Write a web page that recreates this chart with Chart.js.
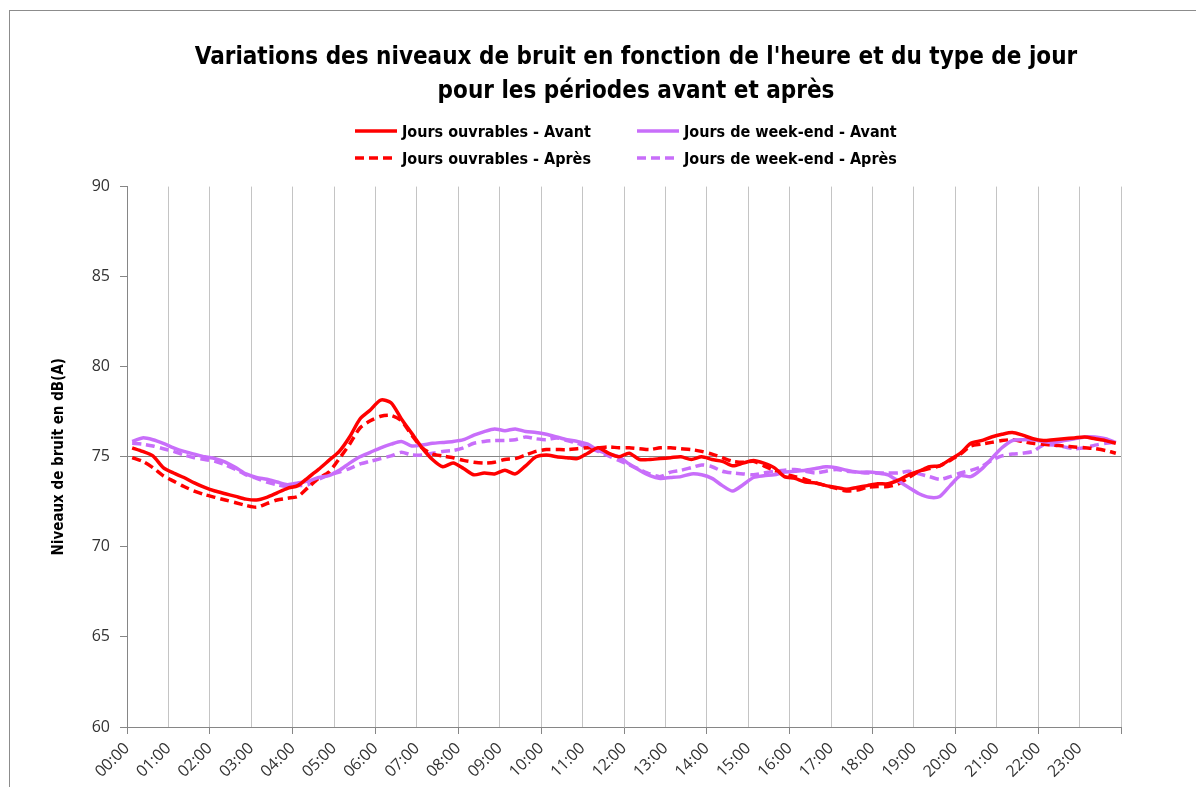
<!DOCTYPE html>
<html>
<head>
<meta charset="utf-8">
<script src="https://cdn.jsdelivr.net/npm/chart.js@4.4.0/dist/chart.umd.min.js"></script>
<style>
  html, body { margin: 0; padding: 0; background: #fff; overflow: hidden; }
  #frame { position: absolute; left: 9px; top: 10px; width: 1400px; height: 900px; border: 1px solid #8c8c8c; }
  #wrap { position: absolute; left: 0; top: 0; width: 1272px; height: 787px; }
  .item { position: absolute; display: flex; align-items: center; white-space: nowrap;
          font: bold 16px "Liberation Sans Narrow", "DejaVu Sans Condensed", sans-serif; color: #000; }
  .item canvas { margin-right: 5px; }
</style>
</head>
<body>
<div id="frame"></div>
<div id="wrap"><canvas id="chart"></canvas></div>
<div id="legend"></div>
<script>
const hourLabels = ['00:00', '01:00', '02:00', '03:00', '04:00', '05:00', '06:00', '07:00',
  '08:00', '09:00', '10:00', '11:00', '12:00', '13:00', '14:00', '15:00',
  '16:00', '17:00', '18:00', '19:00', '20:00', '21:00', '22:00', '23:00'];

// one value per quarter hour (00:00-00:15, 00:15-00:30, ...)
const ouvrablesAvant = [
  75.5, 75.3, 75.05, 74.4, 74.1, 73.85, 73.55, 73.3, 73.1, 72.95, 72.8, 72.65,
  72.6, 72.75, 73.0, 73.25, 73.4, 73.85, 74.3, 74.8, 75.3, 76.1, 77.1, 77.6,
  78.15, 78.0, 77.1, 76.3, 75.5, 74.85, 74.45, 74.65, 74.35, 74.0, 74.1, 74.05,
  74.25, 74.05, 74.5, 75.0, 75.1, 75.0, 74.95, 74.9, 75.2, 75.5, 75.2, 75.0,
  75.2, 74.85, 74.85, 74.9, 74.95, 75.0, 74.85, 75.0, 74.85, 74.75, 74.5, 74.65,
  74.8, 74.65, 74.4, 73.9, 73.8, 73.6, 73.55, 73.4, 73.3, 73.2, 73.3, 73.4,
  73.5, 73.5, 73.7, 74.0, 74.2, 74.45, 74.5, 74.85, 75.2, 75.75, 75.9, 76.1,
  76.25, 76.35, 76.2, 76.0, 75.9, 75.95, 76.0, 76.05, 76.1, 76.0, 75.9, 75.75
];
const ouvrablesApres = [
  74.95, 74.75, 74.4, 73.95, 73.65, 73.35, 73.1, 72.9, 72.75, 72.6, 72.45, 72.3,
  72.2, 72.4, 72.6, 72.7, 72.8, 73.3, 73.8, 74.15, 74.9, 75.7, 76.6, 77.0,
  77.25, 77.3, 77.0, 76.2, 75.5, 75.15, 75.05, 74.95, 74.8, 74.7, 74.65, 74.7,
  74.85, 74.9, 75.1, 75.3, 75.4, 75.4, 75.4, 75.45, 75.5, 75.5, 75.55, 75.5,
  75.5, 75.45, 75.4, 75.5, 75.5, 75.45, 75.4, 75.3, 75.15, 74.95, 74.75, 74.7,
  74.75, 74.5, 74.25, 74.05, 73.9, 73.75, 73.55, 73.4, 73.25, 73.1, 73.15, 73.3,
  73.35, 73.35, 73.5, 73.85, 74.2, 74.35, 74.5, 74.8, 75.15, 75.6, 75.7, 75.8,
  75.9, 75.95, 75.85, 75.75, 75.7, 75.65, 75.6, 75.55, 75.5, 75.45, 75.35, 75.2
];
const weekendAvant = [
  75.85, 76.05, 75.95, 75.75, 75.5, 75.3, 75.15, 75.0, 74.9, 74.7, 74.4, 74.05,
  73.85, 73.75, 73.6, 73.45, 73.55, 73.65, 73.85, 73.95, 74.25, 74.65, 75.0, 75.25,
  75.5, 75.7, 75.85, 75.6, 75.65, 75.75, 75.8, 75.85, 75.95, 76.2, 76.4, 76.55,
  76.45, 76.55, 76.4, 76.35, 76.25, 76.1, 75.95, 75.85, 75.7, 75.35, 75.15, 75.0,
  74.6, 74.25, 73.95, 73.8, 73.85, 73.9, 74.05, 74.0, 73.8, 73.4, 73.1, 73.45,
  73.85, 73.95, 74.0, 74.15, 74.2, 74.25, 74.35, 74.45, 74.4, 74.25, 74.15, 74.15,
  74.1, 74.0, 73.65, 73.3, 72.95, 72.75, 72.8, 73.4, 73.95, 73.9, 74.3, 74.9,
  75.5, 75.9, 75.95, 75.95, 75.85, 75.8, 75.9, 76.0, 76.1, 76.1, 76.0, 75.8
];
const weekendApres = [
  75.75, 75.7, 75.6, 75.45, 75.3, 75.1, 74.95, 74.85, 74.75, 74.55, 74.3, 74.0,
  73.8, 73.6, 73.45, 73.35, 73.4, 73.45, 73.75, 74.0, 74.15, 74.35, 74.6, 74.75,
  74.9, 75.05, 75.25, 75.1, 75.1, 75.2, 75.3, 75.35, 75.5, 75.75, 75.85, 75.9,
  75.9, 75.95, 76.1, 76.0, 75.95, 76.05, 75.9, 75.75, 75.5, 75.3, 75.05, 74.8,
  74.55, 74.3, 74.05, 73.9, 74.15, 74.25, 74.4, 74.55, 74.45, 74.2, 74.1, 74.05,
  74.0, 74.1, 74.2, 74.25, 74.3, 74.2, 74.1, 74.2, 74.3, 74.2, 74.15, 74.1,
  74.1, 74.1, 74.1, 74.2, 74.05, 73.9, 73.75, 73.9, 74.1, 74.25, 74.45, 74.8,
  75.05, 75.15, 75.2, 75.3, 75.65, 75.65, 75.55, 75.45, 75.5, 75.65, 75.75, 75.8
];

const RED = '#ff0000';
const VIOLET = 'rgb(200, 110, 250)';
const AXIS = '#868686';
const GRID = '#c4c4c4';
const narrow = '"Liberation Sans Narrow", "DejaVu Sans Condensed", sans-serif';
const regular = '"Open Sans", sans-serif';

// each value sits in the middle of its quarter-hour slot
const toPoints = values => values.map((v, i) => ({ x: (i + 0.5) / 4, y: v }));

const series = [
  { label: 'Jours ouvrables - Avant', data: ouvrablesAvant, color: RED, dash: [] },
  { label: 'Jours de week-end - Avant', data: weekendAvant, color: VIOLET, dash: [] },
  { label: 'Jours ouvrables - Après', data: ouvrablesApres, color: RED, dash: [9, 5] },
  { label: 'Jours de week-end - Après', data: weekendApres, color: VIOLET, dash: [9, 5] }
];

const chart = new Chart(document.getElementById('chart'), {
  type: 'line',
  data: {
    datasets: series.map(s => ({
      label: s.label,
      data: toPoints(s.data),
      borderColor: s.color,
      backgroundColor: s.color,
      borderDash: s.dash,
      borderWidth: 3.5,
      pointRadius: 0,
      tension: 0.25,
      fill: false
    }))
  },
  options: {
    responsive: true,
    maintainAspectRatio: false,
    animation: false,
    layout: { padding: 0 },
    plugins: {
      legend: { display: false },
      tooltip: { enabled: false },
      title: {
        display: true,
        text: ["Variations des niveaux de bruit en fonction de l'heure et du type de jour",
               'pour les périodes avant et après'],
        color: '#000',
        font: { family: narrow, size: 24, weight: 'bold', lineHeight: 1.45 },
        padding: { top: 40, bottom: 77 }
      }
    },
    scales: {
      x: {
        type: 'linear',
        min: 0,
        max: 24,
        afterFit: s => { s.height = 60; },
        ticks: {
          stepSize: 1,
          autoSkip: false,
          maxRotation: 45,
          minRotation: 45,
          color: '#333',
          padding: 5,
          font: { family: regular, size: 16 },
          callback: v => hourLabels[v] || ''
        },
        grid: {
          color: GRID,
          tickColor: ctx => (ctx.tick && ctx.tick.value % 2 === 0) ? AXIS : 'transparent',
          tickLength: 7
        },
        border: { color: AXIS }
      },
      y: {
        min: 60,
        max: 90,
        afterFit: s => { s.width = 127; },
        ticks: {
          stepSize: 5,
          color: '#333',
          padding: 10,
          font: { family: regular, size: 16 }
        },
        grid: {
          color: ctx => (ctx.tick && ctx.tick.value === 75) ? AXIS : 'transparent',
          tickColor: AXIS,
          tickLength: 7
        },
        border: { color: AXIS },
        title: {
          display: true,
          text: 'Niveaux de bruit en dB(A)',
          color: '#000',
          font: { family: narrow, size: 15, weight: 'bold' },
          padding: { top: 50, bottom: 0 }
        }
      },
      spacer: {
        position: 'right',
        display: true,
        afterFit: s => { s.width = 151; },
        ticks: { display: false },
        grid: { display: false, drawTicks: false },
        border: { display: false }
      }
    }
  }
});

// legend: two rows of two items, built from the datasets
const legendSlots = [[355, 131], [637, 131], [355, 158], [637, 158]];
const legendBox = document.getElementById('legend');
chart.data.datasets.forEach((ds, i) => {
  const item = document.createElement('div');
  item.className = 'item';
  item.style.left = legendSlots[i][0] + 'px';
  item.style.top = (legendSlots[i][1] - 10) + 'px';
  item.style.height = '20px';
  const swatch = document.createElement('canvas');
  swatch.width = 42; swatch.height = 8;
  const g = swatch.getContext('2d');
  g.strokeStyle = ds.borderColor;
  g.lineWidth = 3.5;
  g.setLineDash(ds.borderDash);
  g.beginPath(); g.moveTo(0, 4); g.lineTo(42, 4); g.stroke();
  item.appendChild(swatch);
  item.appendChild(document.createTextNode(ds.label));
  legendBox.appendChild(item);
});
</script>
</body>
</html>
